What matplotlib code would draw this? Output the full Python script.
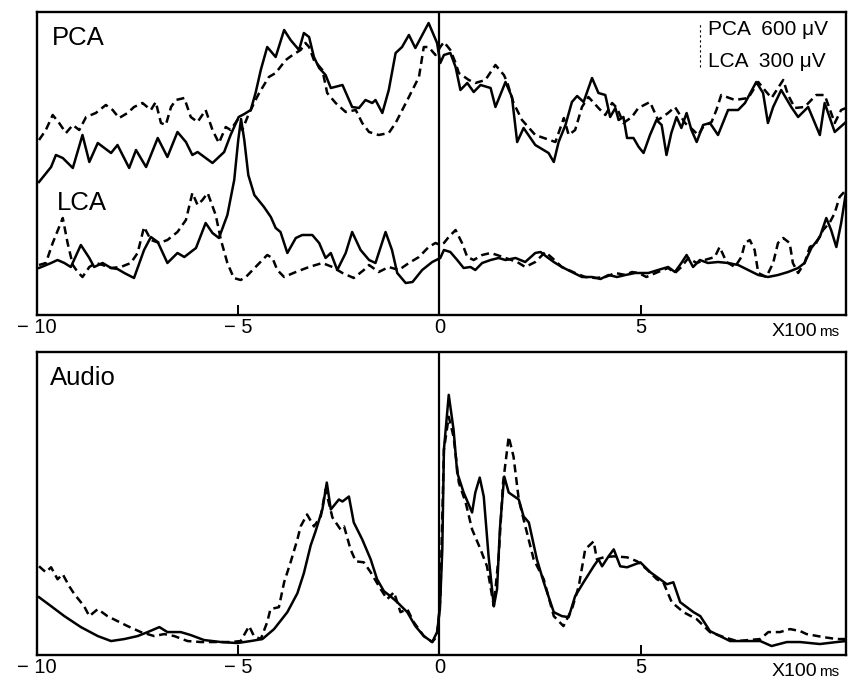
import matplotlib
matplotlib.use("Agg")
import matplotlib.pyplot as plt

# ---------------- data (time in x100 ms, amplitude in arbitrary units) ----------------
pca_solid = [(-9.95,133),(-9.65,148),(-9.53,160),(-9.36,157),(-9.11,147),(-8.87,180),(-8.70,153),
             (-8.49,172),(-8.16,162),(-8.00,170),(-7.71,147),(-7.54,165),(-7.29,148),(-7.00,177),
             (-6.76,158),(-6.51,183),(-6.30,173),(-6.14,160),(-6.01,163),(-5.64,152),(-5.35,163),
             (-5.19,180),(-4.99,198),(-4.85,201),(-4.69,205),(-4.57,222),(-4.44,245),(-4.28,268),
             (-4.07,258),(-3.86,285),(-3.70,275),(-3.49,265),(-3.37,282),(-3.24,278),(-3.12,258),
             (-2.99,247),(-2.83,240),(-2.70,227),(-2.41,230),(-2.17,208),(-2.00,207),(-1.84,215),
             (-1.67,212),(-1.59,215),(-1.42,202),(-1.26,225),(-1.09,262),(-0.93,268),(-0.76,280),
             (-0.60,267),(-0.27,292),(-0.06,272),(0.02,252),(0.11,260),(0.27,262),(0.40,248),
             (0.52,225),(0.69,232),(0.85,223),(1.02,230),(1.27,227),(1.39,208),(1.64,233),(1.80,218),
             (1.93,173),(2.09,187),(2.38,170),(2.71,162),(2.84,153),(2.96,173),(3.13,190),(3.29,213),
             (3.42,219),(3.58,213),(3.79,237),(3.95,222),(4.12,220),(4.24,198),(4.37,207),(4.45,195),
             (4.57,198),(4.66,177),(4.82,177),(4.95,168),(5.07,162),(5.23,180),(5.39,195),(5.52,190),
             (5.64,160),(5.76,182),(5.89,198),(6.01,187),(6.14,202),(6.26,185),(6.39,173),(6.55,190),
             (6.72,192),(6.92,180),(7.17,205),(7.42,205),(7.59,212),(7.87,233),(8.04,222),(8.16,192),
             (8.29,208),(8.49,225),(8.74,208),(8.91,198),(9.16,208),(9.45,180),(9.57,212),(9.82,183),
             (10.10,193)]

pca_dashed = [(-9.95,175),(-9.78,185),(-9.61,200),(-9.45,192),(-9.28,182),(-9.11,190),(-8.95,185),
              (-8.78,198),(-8.54,202),(-8.29,210),(-8.12,205),(-7.96,197),(-7.75,202),(-7.59,208),
              (-7.38,212),(-7.17,205),(-7.05,213),(-6.92,192),(-6.80,190),(-6.67,208),(-6.55,215),
              (-6.34,217),(-6.18,198),(-6.01,193),(-5.81,205),(-5.64,185),(-5.48,172),(-5.31,188),
              (-5.19,185),(-5.02,195),(-4.90,185),(-4.75,200),(-4.57,215),(-4.48,222),(-4.24,238),
              (-4.07,242),(-3.82,255),(-3.65,260),(-3.45,265),(-3.33,272),(-3.24,268),(-3.12,255),
              (-2.91,245),(-2.79,222),(-2.58,212),(-2.33,203),(-2.08,205),(-1.92,192),(-1.75,183),
              (-1.51,180),(-1.26,182),(-1.09,192),(-0.76,218),(-0.51,238),(-0.39,268),(-0.27,268),
              (-0.10,260),(0.02,268),(0.11,273),(0.27,265),(0.40,252),(0.48,242),(0.73,235),
              (0.89,232),(1.14,235),(1.39,250),(1.60,240),(1.68,233),(1.84,212),(2.05,195),(2.38,180),
              (2.88,173),(3.09,197),(3.21,180),(3.37,185),(3.54,208),(3.70,218),(3.95,207),(4.12,200),
              (4.29,212),(4.41,207),(4.57,192),(4.78,198),(4.94,207),(5.23,213),(5.43,195),(5.68,202),
              (5.85,208),(6.10,192),(6.30,185),(6.43,180),(6.55,188),(6.76,193),(6.88,205),(7.00,220),
              (7.34,215),(7.67,217),(7.92,233),(8.08,225),(8.25,217),(8.54,235),(8.66,220),(8.83,207),
              (9.07,208),(9.36,220),(9.57,220),(9.82,192),(9.98,205),(10.10,207)]

lca_solid = [(-9.95,47),(-9.65,52),(-9.49,55),(-9.32,52),(-9.16,48),(-8.91,70),(-8.70,57),(-8.58,48),
             (-8.37,52),(-8.16,47),(-8.00,46),(-7.83,42),(-7.59,37),(-7.34,65),(-7.17,78),(-7.00,73),
             (-6.76,52),(-6.51,62),(-6.34,58),(-6.05,67),(-5.81,92),(-5.64,82),(-5.48,77),(-5.27,100),
             (-5.10,135),(-5.00,175),(-4.93,196),(-4.85,175),(-4.75,140),(-4.60,120),(-4.36,108),
             (-4.19,98),(-4.07,87),(-3.95,83),(-3.78,62),(-3.57,77),(-3.41,80),(-3.16,80),(-2.99,72),
             (-2.83,57),(-2.70,62),(-2.54,45),(-2.33,62),(-2.17,83),(-1.96,65),(-1.75,55),(-1.59,52),
             (-1.34,83),(-1.18,65),(-1.05,42),(-0.84,32),(-0.67,33),(-0.43,45),(-0.18,53),(0.02,57),
             (0.11,65),(0.27,63),(0.44,55),(0.60,47),(0.77,48),(0.89,45),(1.06,52),(1.27,55),(1.47,57),
             (1.64,55),(1.89,57),(2.13,53),(2.38,62),(2.51,63),(2.67,58),(2.84,53),(3.04,48),(3.29,43),
             (3.54,38),(3.79,38),(4.00,36),(4.20,40),(4.41,38),(4.62,40),(4.86,42),(5.07,42),(5.19,42),
             (5.43,45),(5.68,48),(5.85,43),(6.01,52),(6.14,60),(6.30,48),(6.47,55),(6.67,52),(6.92,53),
             (7.17,52),(7.42,50),(7.67,45),(7.92,40),(8.16,38),(8.41,40),(8.66,43),(8.91,47),(9.07,52),
             (9.24,67),(9.45,78),(9.61,97),(9.73,85),(9.86,68),(9.98,92),(10.10,123)]

lca_dashed = [(-9.95,50),(-9.78,52),(-9.61,72),(-9.36,97),(-9.24,72),(-9.11,50),(-8.99,43),(-8.87,38),
              (-8.70,48),(-8.54,52),(-8.37,50),(-8.16,47),(-7.92,48),(-7.67,52),(-7.50,62),(-7.34,88),
              (-7.17,75),(-6.96,72),(-6.76,75),(-6.51,83),(-6.30,95),(-6.14,122),(-6.01,110),(-5.89,115),
              (-5.76,122),(-5.56,100),(-5.43,75),(-5.27,52),(-5.11,37),(-4.94,35),(-4.81,38),(-4.57,48),
              (-4.28,60),(-4.15,57),(-4.03,45),(-3.86,38),(-3.57,43),(-3.24,48),(-2.91,52),(-2.66,48),
              (-2.41,42),(-2.13,37),(-1.88,45),(-1.75,50),(-1.51,43),(-1.26,48),(-1.01,45),(-0.76,52),
              (-0.51,58),(-0.27,68),(-0.10,72),(0.02,70),(0.11,72),(0.23,78),(0.40,85),(0.56,72),
              (0.69,58),(0.85,55),(1.06,60),(1.27,62),(1.43,60),(1.64,57),(1.93,53),(2.13,48),(2.38,53),
              (2.63,63),(2.80,57),(3.04,48),(3.37,42),(3.62,38),(3.87,37),(4.12,38),(4.37,42),(4.62,40),
              (4.78,43),(4.95,42),(5.14,38),(5.43,43),(5.68,47),(5.85,42),(6.01,48),(6.18,57),(6.39,52),
              (6.59,55),(6.84,58),(6.96,68),(7.13,53),(7.34,48),(7.50,58),(7.59,72),(7.71,75),(7.83,65),
              (7.92,42),(8.12,38),(8.29,52),(8.41,72),(8.54,77),(8.70,72),(8.78,52),(8.91,42),(9.07,52),
              (9.20,68),(9.36,72),(9.53,85),(9.69,92),(9.82,102),(9.94,118),(10.10,125)]

audio_solid = [(-9.95,58),(-9.65,49),(-9.32,39),(-8.91,28),(-8.49,19),(-8.16,14),(-7.83,16),(-7.50,19),
               (-7.25,23),(-6.96,28),(-6.76,23),(-6.43,23),(-6.18,20),(-5.85,15),(-5.43,13),(-5.02,12),
               (-4.69,14),(-4.40,16),(-4.11,26),(-3.78,43),(-3.53,62),(-3.37,82),(-3.20,110),(-3.08,124),
               (-2.91,146),(-2.80,173),(-2.70,146),(-2.50,156),(-2.41,154),(-2.25,159),(-2.13,133),
               (-1.92,116),(-1.71,96),(-1.55,76),(-1.38,64),(-1.22,59),(-1.05,53),(-0.80,43),(-0.60,29),
               (-0.39,19),(-0.18,13),(-0.06,23),(0.01,46),(0.07,106),(0.11,206),(0.23,261),(0.35,226),
               (0.44,183),(0.60,163),(0.81,143),(0.89,163),(1.00,178),(1.10,159),(1.22,99),(1.35,49),
               (1.43,66),(1.50,126),(1.58,166),(1.61,179),(1.72,163),(1.97,156),(2.09,139),(2.22,133),
               (2.42,96),(2.59,73),(2.84,43),(3.04,39),(3.21,38),(3.37,59),(3.58,73),(3.83,89),(3.95,96),
               (4.04,89),(4.20,99),(4.33,106),(4.49,89),(4.66,88),(4.99,93),(5.24,83),(5.48,76),(5.65,71),
               (5.81,73),(5.98,53),(6.31,43),(6.48,39),(6.72,24),(6.97,19),(7.22,14),(7.63,14),(7.97,14),
               (8.25,9),(8.63,13),(8.96,13),(9.45,11),(9.87,13),(10.10,14)]

audio_dashed = [(-9.95,89),(-9.78,83),(-9.65,88),(-9.49,76),(-9.36,81),(-9.20,69),(-9.07,61),(-8.83,49),
                (-8.70,39),(-8.49,46),(-8.25,39),(-8.00,34),(-7.75,29),(-7.42,23),(-7.09,19),(-6.84,21),
                (-6.59,19),(-6.26,14),(-5.93,13),(-5.52,13),(-5.19,13),(-4.94,14),(-4.73,29),(-4.61,19),
                (-4.44,16),(-4.28,33),(-4.20,46),(-3.99,48),(-3.86,73),(-3.70,93),(-3.53,116),(-3.45,129),
                (-3.29,141),(-3.12,129),(-2.95,139),(-2.83,166),(-2.66,138),(-2.46,126),(-2.37,129),
                (-2.21,106),(-2.08,94),(-1.88,93),(-1.71,83),(-1.46,66),(-1.30,56),(-1.13,63),(-0.97,43),
                (-0.80,46),(-0.64,33),(-0.39,19),(-0.18,13),(-0.06,19),(0.02,56),(0.11,206),(0.23,239),
                (0.35,219),(0.48,173),(0.65,153),(0.81,126),(1.02,106),(1.18,89),(1.35,49),(1.47,99),
                (1.58,173),(1.72,219),(1.84,199),(1.97,156),(2.09,136),(2.34,96),(2.59,76),(2.84,39),
                (3.08,29),(3.29,46),(3.46,69),(3.62,106),(3.83,114),(3.91,96),(4.08,98),(4.33,99),
                (4.66,98),(4.91,94),(5.15,86),(5.40,76),(5.56,73),(5.77,53),(6.06,43),(6.39,36),(6.72,23),
                (7.06,18),(7.39,14),(7.97,16),(8.17,23),(8.46,23),(8.71,26),(8.96,24),(9.12,21),(9.53,18),
                (9.87,16),(10.10,16)]

tick_values = [-10, -5, 0, 5]
tick_labels = ["\u2212 10", "\u2212 5", "0", "5"]
scale_labels = ["PCA  600 \u03bcV", "LCA  300 \u03bcV"]

# ---------------- drawing ----------------
plt.rcParams['font.family'] = ['Liberation Sans', 'DejaVu Sans']

W, H = 848, 682
fig = plt.figure(figsize=(W / 100, H / 100), dpi=100)

def fx(px):
    return px / W

def fy(py):
    return 1 - py / H

ax1 = fig.add_axes([fx(37), fy(315), fx(846) - fx(37), fy(12) - fy(315)])
ax2 = fig.add_axes([fx(37), fy(655), fx(846) - fx(37), fy(352) - fy(655)])

LW = 1.8
DASH = (0, (3.2, 1.9))

def xs(series):
    return [p[0] for p in series]

def ys(series):
    return [p[1] for p in series]

for ax in (ax1, ax2):
    ax.set_xlim(-10, 10.1)
    for sp in ax.spines.values():
        sp.set_linewidth(1.7)
        sp.set_color('black')
    ax.set_yticks([])
    ax.set_xticks(tick_values)
    ax.set_xticklabels(tick_labels)
    ax.tick_params(axis='x', direction='in', length=7, width=1.4, labelsize=14.5, pad=2.5)
    ax.axvline(0, color='black', lw=1.6)

ax1.set_ylim(0, 303)
ax2.set_ylim(0, 304)

ax1.plot(xs(pca_solid), ys(pca_solid), color='black', lw=LW)
ax1.plot(xs(pca_dashed), ys(pca_dashed), color='black', lw=LW, linestyle=DASH)
ax1.plot(xs(lca_solid), ys(lca_solid), color='black', lw=LW)
ax1.plot(xs(lca_dashed), ys(lca_dashed), color='black', lw=LW, linestyle=DASH)

ax2.plot(xs(audio_solid), ys(audio_solid), color='black', lw=LW)
ax2.plot(xs(audio_dashed), ys(audio_dashed), color='black', lw=LW, linestyle=DASH)

# panel labels
ax1.text(0.0185, 0.891, "PCA", transform=ax1.transAxes, fontsize=18.5, va='baseline', ha='left')
ax1.text(0.0247, 0.347, "LCA", transform=ax1.transAxes, fontsize=18.5, va='baseline', ha='left')
ax2.text(0.016, 0.891, "Audio", transform=ax2.transAxes, fontsize=18.5, va='baseline', ha='left')

# calibration legend
ax1.text(0.829, 0.924, scale_labels[0], transform=ax1.transAxes, fontsize=15, va='baseline', ha='left')
ax1.text(0.829, 0.818, scale_labels[1], transform=ax1.transAxes, fontsize=15, va='baseline', ha='left')
ax1.plot([0.8195, 0.8195], [0.818, 0.964], transform=ax1.transAxes, color='black',
         lw=0.8, linestyle=(0, (2, 2.5)))

# unit labels
for base in (336, 676):
    fig.text(fx(817), fy(base), "X100", fontsize=14, ha='right', va='baseline')
    fig.text(fx(819), fy(base), "ms", fontsize=11, ha='left', va='baseline')

fig.savefig("out.png", dpi=100)
